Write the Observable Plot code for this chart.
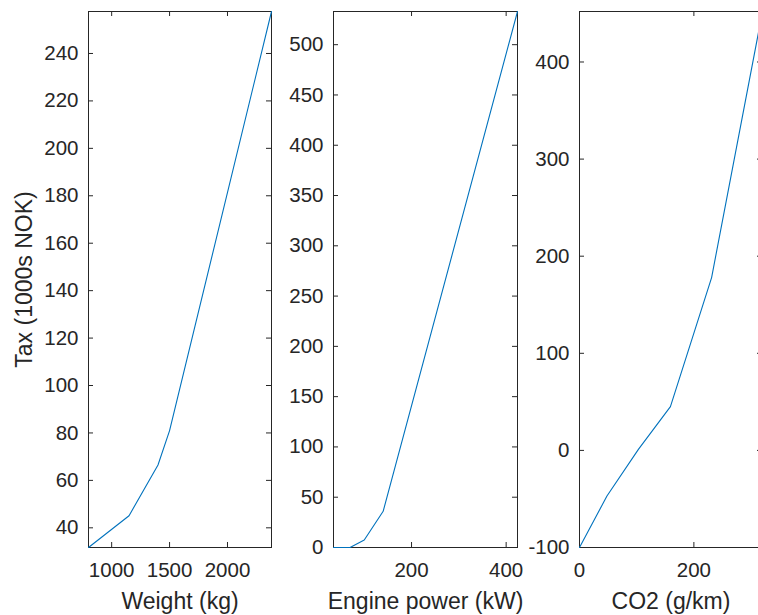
<!DOCTYPE html>
<html>
<head>
<meta charset="utf-8">
<script src="https://cdn.jsdelivr.net/npm/d3@7"></script>
<script src="https://cdn.jsdelivr.net/npm/@observablehq/plot@0.6"></script>
<style>
  html, body { margin: 0; padding: 0; background: #fff; }
  #wrap { position: relative; width: 758px; height: 615px; overflow: hidden; background: #fff; }
  #wrap svg { position: absolute; top: 0; }
</style>
</head>
<body>
<div id="wrap"></div>
<script>
// ---- data ----
const weightKg  = [800, 1150, 1400, 1500, 2380];
const weightTax = [31.7, 45.1, 66.5, 81, 257.7];

const powerKw   = [35, 70, 100, 140, 424];
const powerTax  = [0, 0, 7.5, 36, 533];

const co2Gkm    = [0, 48, 103, 159, 231, 320];
const co2Tax    = [-100, -47, 1, 45, 178, 452];

const weightTicks   = [1000, 1500, 2000];
const weightTaxTicks = [40, 60, 80, 100, 120, 140, 160, 180, 200, 220, 240];
const powerTicks    = [200, 400];
const powerTaxTicks = [0, 50, 100, 150, 200, 250, 300, 350, 400, 450, 500];
const co2Ticks      = [0, 200];
const co2TaxTicks   = [-100, 0, 100, 200, 300, 400];

const xLabels = ["Weight (kg)", "Engine power (kW)", "CO2 (g/km)"];
const yLabel = "Tax (1000s NOK)";

// ---- layout ----
const H = 536, MT = 11, MB = 68, MR = 20, TICK = 5;
const INK = "#262626", BLUE = "#0072BD";
const FONT = "Liberation Sans, Arial, Helvetica, sans-serif";

function panel({xs, ys, xDomain, yDomain, xTicks, yTicks, xLabel, yLab, boxLeft, w, ml}) {
  const data = xs.map((x, i) => ({x, y: ys[i]}));
  const marks = [
    Plot.frame({stroke: INK, strokeWidth: 1}),
    Plot.ruleX(xTicks, {x: d => d, stroke: INK, insetTop: H - TICK}),
    Plot.ruleX(xTicks, {x: d => d, stroke: INK, insetBottom: H - TICK}),
    Plot.ruleY(yTicks, {y: d => d, stroke: INK, insetRight: w - TICK}),
    Plot.ruleY(yTicks, {y: d => d, stroke: INK, insetLeft: w - TICK}),
    Plot.axisX({ticks: xTicks, tickSize: 0, tickPadding: 15, tickFormat: d => String(d), fontSize: 20.5, label: null, fill: INK}),
    Plot.axisY({ticks: yTicks, tickSize: 0, tickPadding: 10, tickFormat: d => String(d), fontSize: 20.5, label: null, fill: INK}),
    Plot.text([xLabel], {text: d => d, frameAnchor: "bottom", lineAnchor: "top", dy: 45, fontSize: 23, fill: INK})
  ];
  if (yLab) {
    marks.push(Plot.text([yLab], {text: d => d, frameAnchor: "left", rotate: -90, dx: -64, textAnchor: "middle", lineAnchor: "middle", fontSize: 23, fill: INK}));
  }
  marks.push(Plot.line(data, {x: "x", y: "y", stroke: BLUE, strokeWidth: 1.1}));
  const svg = Plot.plot({
    width: ml + w + MR,
    height: MT + H + MB,
    marginLeft: ml,
    marginRight: MR,
    marginTop: MT,
    marginBottom: MB,
    x: {type: "linear", domain: xDomain},
    y: {type: "linear", domain: yDomain},
    style: {fontFamily: FONT, color: INK, background: "transparent", maxWidth: "none", overflow: "visible"},
    marks
  });
  svg.style.left = (boxLeft - ml) + "px";
  return svg;
}

const wrap = document.getElementById("wrap");
wrap.appendChild(panel({xs: weightKg, ys: weightTax, xDomain: [800, 2380], yDomain: [31.7, 257.7],
  xTicks: weightTicks, yTicks: weightTaxTicks, xLabel: xLabels[0], yLab: yLabel, boxLeft: 88, w: 183, ml: 88}));
wrap.appendChild(panel({xs: powerKw, ys: powerTax, xDomain: [35, 424], yDomain: [0, 533],
  xTicks: powerTicks, yTicks: powerTaxTicks, xLabel: xLabels[1], boxLeft: 333, w: 184, ml: 70}));
wrap.appendChild(panel({xs: co2Gkm, ys: co2Tax, xDomain: [0, 320], yDomain: [-100, 452],
  xTicks: co2Ticks, yTicks: co2TaxTicks, xLabel: xLabels[2], boxLeft: 579, w: 183, ml: 70}));
</script>
</body>
</html>
